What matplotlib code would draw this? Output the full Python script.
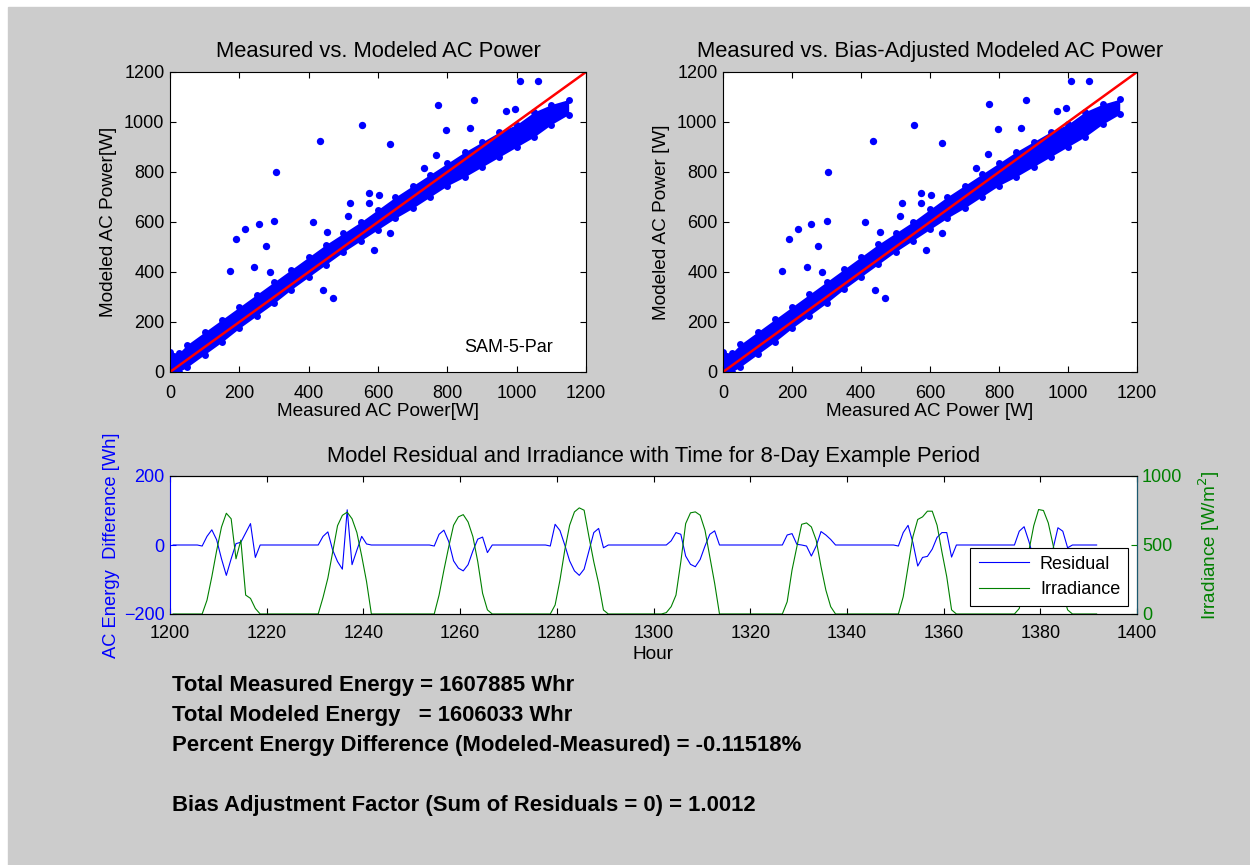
import numpy as np
import matplotlib
matplotlib.use("Agg")
import matplotlib.pyplot as plt
from matplotlib.patches import Rectangle

plt.rcParams['font.family'] = ['Liberation Sans', 'DejaVu Sans']

# scatter: dense band of points (measured W -> lower / upper modeled W)
band_x = [0, 25, 50, 100, 150, 200, 250, 300, 350, 400, 450, 500, 550, 600,
          650, 700, 750, 800, 850, 900, 950, 1000, 1050, 1100, 1150]
band_lo = [0, 0, 20, 70, 120, 175, 225, 275, 330, 380, 430, 480, 525, 570,
           615, 655, 700, 745, 780, 820, 860, 900, 940, 990, 1030]
band_hi = [80, 75, 110, 160, 210, 260, 310, 360, 410, 460, 510, 555, 600, 650,
           700, 745, 790, 835, 880, 920, 960, 990, 1040, 1070, 1090]

# scatter: points outside the band
out_x = [1010, 1062, 772, 877, 969, 995, 555, 796, 865, 434, 635, 305, 767,
         734, 575, 603, 518, 514, 575, 413, 454, 301, 256, 216, 191, 276, 635,
         588, 172, 243, 288, 441, 469]
out_y = [1164, 1164, 1069, 1087, 1044, 1053, 987, 969, 975, 924, 913, 800, 869,
         817, 717, 707, 677, 623, 677, 600, 560, 604, 593, 571, 533, 505, 556,
         489, 404, 420, 400, 327, 297]

bias_factor = 1.0012
line_range = [0, 1200]

# hourly residual [Wh] and irradiance [W/m2], one row per day
hour_start = 1200.65
residual = [
    0, 0, 0, 0, 0, 0, -3, 25, 44, 15, -40, -88, -40, 4, 8, 35, 62, -36, 0, 0, 0, 0, 0, 0,
    0, 0, 0, 0, 0, 0, 0, 25, 38, -15, -48, -70, 102, -57, -15, 25, 3, 0, 0, 0, 0, 0, 0, 0,
    0, 0, 0, 0, 0, 0, -3, 31, 43, 10, -46, -67, -75, -57, -17, 17, 23, -22, 0, 0, 0, 0, 0, 0,
    0, 0, 0, 0, 0, 0, -3, 60, 42, 0, -46, -75, -88, -70, -17, 36, 48, -8, 0, 0, 0, 0, 0, 0,
    0, 0, 0, 0, 0, 0, 0, 12, 36, 31, -32, -56, -63, -42, -3, 31, 41, 0, 0, 0, 0, 0, 0, 0,
    0, 0, 0, 0, 0, 0, 0, 29, 33, 2, 0, -3, -32, -3, 39, 29, 16, 0, 0, 0, 0, 0, 0, 0,
    0, 0, 0, 0, 0, 0, -3, 36, 57, 7, -61, -36, -33, -12, 22, 36, 36, -35, 0, 0, 0, 0, 0, 0,
    0, 0, 0, 0, 0, 0, 0, 40, 53, 10, -40, -70, -75, -50, -10, 50, 40, -8, 0, 0, 0, 0, 0, 0,
]
irradiance = [
    0, 0, 0, 0, 0, 0, 0, 100, 270, 460, 630, 730, 690, 400, 535, 137, 113, 40, 0, 0, 0, 0, 0, 0,
    0, 0, 0, 0, 0, 0, 0, 120, 260, 450, 640, 715, 738, 690, 590, 420, 235, 0, 0, 0, 0, 0, 0, 0,
    0, 0, 0, 0, 0, 0, 0, 137, 318, 487, 643, 704, 720, 667, 560, 380, 150, 30, 0, 0, 0, 0, 0, 0,
    0, 0, 0, 0, 0, 0, 0, 65, 245, 463, 643, 740, 769, 752, 560, 378, 222, 29, 0, 0, 0, 0, 0, 0,
    0, 0, 0, 0, 0, 0, 10, 53, 137, 378, 655, 733, 740, 716, 607, 415, 222, 0, 0, 0, 0, 0, 0, 0,
    0, 0, 0, 0, 0, 0, 0, 89, 318, 487, 650, 660, 631, 535, 342, 173, 53, 0, 0, 0, 0, 0, 0, 0,
    0, 0, 0, 0, 0, 0, 0, 125, 340, 560, 685, 704, 745, 745, 643, 450, 270, 30, 0, 0, 0, 0, 0, 0,
    0, 0, 0, 0, 0, 0, 0, 40, 230, 460, 640, 757, 750, 660, 500, 320, 150, 30, 0, 0, 0, 0, 0, 0,
]
hours = hour_start + np.arange(len(residual))

summary = ["Total Measured Energy = 1607885 Whr",
           "Total Modeled Energy   = 1606033 Whr",
           "Percent Energy Difference (Modeled-Measured) = -0.11518%",
           "",
           "Bias Adjustment Factor (Sum of Residuals = 0) = 1.0012"]

GRAY = '#cccccc'
GREEN = '#008000'
W, H = 1250, 865
TICK_FS = 13
LABEL_FS = 13.7
TITLE_FS = 15.8


def px_rect(x0, y0, x1, y1):
    # pixel box (top-left origin) -> figure fraction
    return [x0 / W, 1 - y1 / H, (x1 - x0) / W, (y1 - y0) / H]


def style_axes(ax):
    ax.tick_params(direction='in', top=True, right=True, length=4, width=0.8,
                   labelsize=TICK_FS, pad=4)
    ax.tick_params(axis='x', pad=9)
    for s in ax.spines.values():
        s.set_linewidth(0.8)


def scatter_panel(ax, scale, title, xlabel, ylabel):
    lo = np.array(band_lo) * scale
    hi = np.array(band_hi) * scale
    ax.fill_between(band_x, lo, hi, color='blue', lw=0)
    ax.scatter(band_x, lo, s=25, color='blue', lw=0)
    ax.scatter(band_x, hi, s=25, color='blue', lw=0)
    ax.scatter(out_x, np.array(out_y) * scale, s=28, color='blue', lw=0)
    ax.plot(line_range, line_range, color='red', lw=1.8)
    ax.set_xlim(0, 1200)
    ax.set_ylim(0, 1200)
    ax.set_xticks(range(0, 1201, 200))
    ax.set_yticks(range(0, 1201, 200))
    ax.set_title(title, fontsize=TITLE_FS, pad=11)
    ax.set_xlabel(xlabel, fontsize=LABEL_FS, labelpad=1)
    ax.set_ylabel(ylabel, fontsize=LABEL_FS, labelpad=5)
    style_axes(ax)


fig = plt.figure(figsize=(W / 100, H / 100), dpi=100, facecolor='white')
fig.patches.append(Rectangle((8 / W, 0), 1, 1 - 7 / H, transform=fig.transFigure,
                             color=GRAY, zorder=-10))

ax1 = fig.add_axes(px_rect(170, 72, 586, 372))
scatter_panel(ax1, 1.0, "Measured vs. Modeled AC Power",
              "Measured AC Power[W]", "Modeled AC Power[W]")
ax1.text(848, 99, "SAM-5-Par", fontsize=TICK_FS, va='center')

ax2 = fig.add_axes(px_rect(723, 72, 1137, 372))
scatter_panel(ax2, bias_factor, "Measured vs. Bias-Adjusted Modeled AC Power",
              "Measured AC Power [W]", "Modeled AC Power [W]")

ax3 = fig.add_axes(px_rect(170, 476, 1137, 614))
l1, = ax3.plot(hours, residual, color='blue', lw=0.8, label='Residual')
ax3.set_xlim(1200, 1400)
ax3.set_ylim(-200, 200)
ax3.set_xticks(range(1200, 1401, 20))
ax3.set_yticks([-200, 0, 200])
style_axes(ax3)
ax3.tick_params(axis='x', pad=8)
ax3.tick_params(axis='y', colors='blue', right=False)
ax3.spines['left'].set_color('blue')
ax3.set_xlabel("Hour", fontsize=LABEL_FS, labelpad=3)
ax3.set_ylabel("AC Energy  Difference [Wh]", fontsize=13.2, color='blue', labelpad=3)
ax3.set_title("Model Residual and Irradiance with Time for 8-Day Example Period",
              fontsize=TITLE_FS, pad=10)

ax4 = ax3.twinx()
l2, = ax4.plot(hours, irradiance, color=GREEN, lw=0.8, label='Irradiance')
ax4.set_ylim(0, 1000)
ax4.set_yticks([0, 500, 1000])
ax4.tick_params(axis='y', direction='in', length=4, colors=GREEN, labelsize=TICK_FS)
ax4.spines['right'].set_color('#1a5a70')
ax4.spines['left'].set_visible(False)
ax4.set_ylabel("Irradiance [W/m$^2$]", fontsize=LABEL_FS, color=GREEN, labelpad=10)
leg = ax4.legend(handles=[l1, l2], loc='lower right', bbox_to_anchor=(0.991, 0.058),
                 borderaxespad=0, fancybox=False, framealpha=1, edgecolor='black',
                 fontsize=TICK_FS, handlelength=2.8, handletextpad=0.6,
                 labelspacing=0.45, borderpad=0.45)
leg.get_frame().set_linewidth(0.8)

for i, line in enumerate(summary):
    fig.text(172 / W, 1 - (686 + 30 * i) / H, line, fontsize=15.9,
             fontweight='bold', va='center')

fig.savefig("out.png", dpi=100, facecolor=fig.get_facecolor())
